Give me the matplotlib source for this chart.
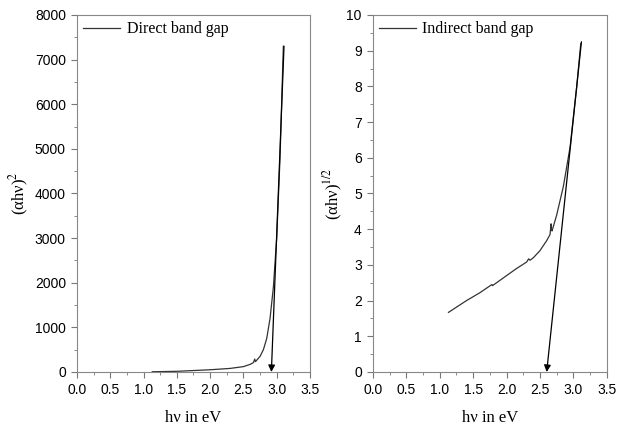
import matplotlib.pyplot as plt
import numpy as np
from matplotlib.ticker import MultipleLocator

# direct band gap curve, (alpha h nu)^2 vs h nu
x_dir = [1.13, 1.5, 2.0, 2.3, 2.5, 2.6, 2.65, 2.67, 2.68, 2.75, 2.8, 2.85, 2.9, 2.95, 3.0, 3.05, 3.1]
y_dir = [5, 15, 50, 80, 120, 170, 210, 290, 230, 350, 500, 750, 1200, 1900, 3000, 4800, 7300]
tan_dir = [(3.11, 7300), (2.92, 0)]

# indirect band gap curve, (alpha h nu)^1/2 vs h nu
x_ind = [1.13, 1.4, 1.6, 1.78, 1.79, 2.0, 2.15, 2.3, 2.33, 2.35, 2.4, 2.5, 2.6, 2.65, 2.665, 2.67, 2.68, 2.75, 2.85, 2.95, 3.05, 3.11]
y_ind = [1.67, 2.0, 2.22, 2.45, 2.42, 2.7, 2.9, 3.08, 3.17, 3.13, 3.2, 3.4, 3.68, 3.85, 4.15, 4.0, 3.95, 4.4, 5.2, 6.3, 8.0, 9.2]
tan_ind = [(3.12, 9.25), (2.6, 0)]

plt.rcParams['mathtext.fontset'] = 'stix'
serif = 'Liberation Serif'
sans = 'Liberation Sans'

fig = plt.figure(figsize=(6.17, 4.26), dpi=100)
ax1 = fig.add_axes([0.1248, 0.1268, 0.3776, 0.838])
ax2 = fig.add_axes([0.6045, 0.1268, 0.379, 0.838])

panels = [
    (ax1, x_dir, y_dir, tan_dir, 'Direct band gap', '(αhν)$^{2}$', 8000, 1000, 3),
    (ax2, x_ind, y_ind, tan_ind, 'Indirect band gap', '(αhν)$^{1/2}$', 10, 1, 1),
]

for ax, xs, ys, tan, lab, ylab, ymax, ystep, lpad in panels:
    ax.plot(xs, ys, color='#333333', lw=0.9, label=lab)
    ax.annotate('', xy=tan[1], xytext=tan[0],
                arrowprops=dict(arrowstyle='-|>', color='black', lw=0.9,
                                mutation_scale=10, shrinkA=0, shrinkB=0))
    ax.set_xlim(0, 3.5)
    ax.set_ylim(0, ymax)
    ax.xaxis.set_major_locator(MultipleLocator(0.5))
    ax.xaxis.set_minor_locator(MultipleLocator(0.25))
    ax.yaxis.set_major_locator(MultipleLocator(ystep))
    ax.yaxis.set_minor_locator(MultipleLocator(ystep / 2))
    ax.tick_params(which='both', direction='out', top=False, right=False,
                   color='#777777', labelsize=10)
    ax.tick_params(which='major', length=4.5)
    ax.tick_params(which='minor', length=2.5)
    for lbl in ax.get_xticklabels() + ax.get_yticklabels():
        lbl.set_family(sans)
    for sp in ax.spines.values():
        sp.set_color('#888888')
    ax.set_xlabel('hν in eV', fontsize=12, family=serif, labelpad=9)
    ax.set_ylabel(ylab, fontsize=12, family=serif, labelpad=lpad)
    leg = ax.legend(loc='upper left', frameon=False, handlelength=2.3,
                    handletextpad=0.4, borderpad=0.2, borderaxespad=0.2,
                    prop={'family': serif, 'size': 11.5})

fig.savefig('out.png', dpi=100)
